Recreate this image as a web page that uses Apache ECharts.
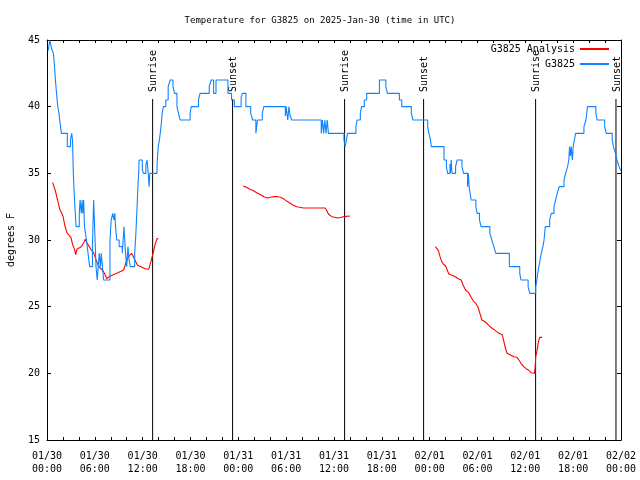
<!DOCTYPE html>
<html><head><meta charset="utf-8">
<script src="https://cdn.jsdelivr.net/npm/echarts@6/dist/echarts.min.js"></script>
<style>html,body{margin:0;padding:0;background:#fff}#c{width:640px;height:480px}</style>
</head><body><div id="c"></div>
<script>
// ---- data (hours since 2025-01-30 00:00 UTC, degrees F) ----
const titleText = 'Temperature for G3825 on 2025-Jan-30 (time in UTC)';
const xTickLabels = ['01/30\n00:00','01/30\n06:00','01/30\n12:00','01/30\n18:00','01/31\n00:00','01/31\n06:00','01/31\n12:00','01/31\n18:00','02/01\n00:00','02/01\n06:00','02/01\n12:00','02/01\n18:00','02/02\n00:00'];
const sunTimes = [13.25, 23.28, 37.33, 47.24, 61.29, 71.37];
const sunNames = ['Sunrise','Sunset','Sunrise','Sunset','Sunrise','Sunset'];

const observed = [[0.15,44.2],[0.35,45],[0.55,44.4],[0.8,44],[0.95,43],[1.05,42],[1.2,41],[1.35,40],[1.5,39.5],[1.6,39],[1.7,38.5],[1.8,38],[2.55,37],[2.95,37.5],[3.1,38],[3.2,37.5],[3.3,35],[3.45,33],[3.65,31],[4.05,32],[4.15,33],[4.3,32],[4.4,33],[4.5,32],[4.6,33],[4.7,31],[4.95,30],[5.15,29],[5.35,28],[5.7,29.5],[5.85,33],[6.0,30.5],[6.15,28],[6.3,27],[6.55,29],[6.7,28],[6.8,29],[6.95,28],[7.1,27],[7.9,30],[8.05,31.5],[8.25,32],[8.4,31.5],[8.5,32],[8.6,31],[8.75,30],[9.05,29.5],[9.45,29],[9.65,31],[9.85,29],[10.0,28],[10.15,29.5],[10.3,28.5],[10.45,28],[11.0,29],[11.15,30.5],[11.3,32.5],[11.4,34],[11.5,35],[11.55,36],[11.95,35.3],[12.1,35],[12.4,35.6],[12.55,36],[12.7,35],[12.8,34],[12.9,35],[13.8,35.6],[13.95,37],[14.1,37.5],[14.3,38.5],[14.45,39.5],[14.6,40],[14.9,40.5],[15.2,41.5],[15.45,42],[15.8,41.5],[16.0,41],[16.3,40],[16.5,39.5],[16.7,39],[17.95,39.5],[18.1,40],[19.0,40.5],[19.2,41],[20.35,41.5],[20.6,42],[20.9,41],[21.2,42],[22.7,41],[23.15,40.5],[23.5,40],[24.35,40.7],[24.5,41],[24.95,40],[25.55,39.5],[25.8,39],[26.2,38],[26.4,39],[27.0,39.5],[27.2,40],[29.9,39.3],[30.0,40],[30.2,39],[30.35,40],[30.5,39.3],[30.7,39],[34.4,38],[34.55,39],[34.7,38],[34.85,39],[35.0,38],[35.15,39],[35.3,38],[37.25,37.5],[37.4,37],[37.55,37.5],[37.7,38],[38.75,38.5],[38.9,39],[39.3,39.5],[39.45,40],[39.8,40.5],[40.1,41],[41.7,42],[42.5,41.5],[42.7,41],[44.2,40.5],[44.5,40],[45.7,39.5],[45.9,39],[47.75,38.5],[47.9,38],[48.1,37.5],[48.2,37],[49.8,36],[50.1,35.5],[50.25,35],[50.55,35.7],[50.6,35],[50.7,36],[50.8,35],[51.25,35.5],[51.45,36],[52.05,35.5],[52.25,35],[52.75,34],[52.85,35],[52.95,34],[53.2,33],[53.8,32.5],[53.95,32],[54.25,31.5],[54.45,31],[55.55,30.5],[55.8,30],[56.05,29.5],[56.3,29],[58.0,28],[59.3,27.5],[59.45,27],[60.35,26.5],[60.55,26],[61.3,26.5],[61.45,27],[61.55,27.5],[61.7,28],[61.85,28.5],[62.0,29],[62.2,29.5],[62.35,30],[62.5,31],[63.05,31.5],[63.25,32],[63.6,32.5],[63.8,33],[64.0,33.5],[64.25,34],[64.85,34.5],[65.05,35],[65.3,35.5],[65.45,36],[65.55,37],[65.65,36.3],[65.75,37],[65.9,36],[66.0,37],[66.15,37.5],[66.3,38],[67.35,38.5],[67.6,39],[67.8,40],[68.85,39.5],[69.0,39],[69.95,38.5],[70.15,38],[70.9,37.5],[71.05,37],[71.3,36.5],[71.5,36],[71.75,35.5],[71.95,35.2]];

const analysis1 = [[0.7,34.3],[0.9,34.2],[1.0,33.8],[1.33,33.0],[1.6,32.3],[1.75,32.2],[2.0,31.8],[2.25,31.05],[2.5,30.55],[2.7,30.4],[3.0,30.2],[3.2,29.7],[3.45,29.3],[3.6,28.9],[3.75,29.3],[3.9,29.4],[4.3,29.5],[4.6,29.8],[4.8,30.05],[5.0,29.8],[5.2,29.6],[5.5,29.3],[5.85,29.05],[6.1,28.6],[6.35,28.2],[6.65,27.9],[6.97,27.75],[7.2,27.5],[7.5,27.1],[7.8,27.25],[8.3,27.4],[8.9,27.55],[9.6,27.75],[9.8,28.1],[10.0,28.5],[10.3,28.8],[10.6,29.0],[10.8,28.8],[11.1,28.4],[11.35,28.1],[11.8,28.0],[12.3,27.85],[12.75,27.8],[13.0,28.3],[13.4,29.25],[13.6,29.75],[13.8,30.1],[13.96,30.1]];
const analysis2 = [[24.6,34.05],[25.0,33.95],[25.45,33.8],[25.9,33.7],[26.3,33.55],[26.8,33.4],[27.2,33.25],[27.7,33.15],[28.0,33.2],[28.4,33.25],[28.9,33.25],[29.3,33.2],[29.65,33.1],[30.1,32.9],[30.5,32.75],[30.9,32.6],[31.3,32.5],[31.7,32.45],[32.15,32.4],[34.9,32.4],[35.1,32.2],[35.3,31.95],[35.5,31.8],[35.7,31.75],[36.1,31.7],[36.5,31.65],[36.9,31.7],[37.2,31.75],[37.45,31.8],[38.0,31.8]];
const analysis3 = [[48.7,29.5],[48.9,29.5],[49.1,29.2],[49.3,28.75],[49.5,28.4],[49.7,28.2],[50.0,28.05],[50.2,27.75],[50.4,27.45],[50.8,27.35],[51.2,27.25],[51.6,27.1],[51.95,27.0],[52.2,26.6],[52.5,26.25],[52.9,26.05],[53.2,25.7],[53.5,25.4],[53.8,25.25],[54.1,24.9],[54.3,24.5],[54.55,24.0],[55.0,23.85],[55.4,23.6],[55.8,23.4],[56.25,23.2],[56.7,23.0],[57.1,22.9],[57.3,22.4],[57.5,21.9],[57.7,21.5],[58.1,21.4],[58.55,21.25],[58.95,21.2],[59.2,21.0],[59.45,20.75],[59.8,20.5],[60.1,20.35],[60.4,20.25],[60.7,20.05],[60.95,20.0],[61.15,20.0],[61.25,20.6],[61.3,21.25],[61.5,21.8],[61.65,22.4],[61.8,22.7],[62.1,22.7]];

// ---- chart ----
const FONT = 'DejaVu Sans Mono';
const RED = '#ff0000', BLUE = '#0f84ff';
const Y_MIN = 15, Y_MAX = 45, SUN_LINE_TOP = 40.575;
const chart = echarts.init(document.getElementById('c'), null, {renderer:'canvas'});
const axisCommonX = {type:'value', min:0, max:72, interval:2,
  axisLine:{show:true, onZero:false, lineStyle:{color:'#000', width:1}},
  axisTick:{show:true, inside:true, length:3, lineStyle:{color:'#000'}},
  splitLine:{show:false}};
const axisCommonY = {type:'value', min:Y_MIN, max:Y_MAX, interval:5,
  axisLine:{show:true, onZero:false, lineStyle:{color:'#000', width:1}},
  axisTick:{show:true, inside:true, length:4, lineStyle:{color:'#000'}},
  splitLine:{show:false}};
const redSeries = [analysis1, analysis2, analysis3].map(d => ({
  name:'G3825 Analysis', type:'line', data:d, symbol:'none', z:3,
  lineStyle:{color:RED, width:1.1}, itemStyle:{color:RED}
}));
chart.setOption({
  animation:false,
  backgroundColor:'#fff',
  title:{text:titleText, left:'center', top:11,
    textStyle:{fontFamily:FONT, fontSize:9, fontWeight:'normal', color:'#000'}},
  legend:{orient:'vertical', right:26, top:38, align:'right', itemWidth:29, itemHeight:2, itemGap:3,
    icon:'rect', selectedMode:false,
    data:[{name:'G3825 Analysis', itemStyle:{color:RED}}, {name:'G3825', itemStyle:{color:BLUE}}],
    textStyle:{fontFamily:FONT, fontSize:10, color:'#000', lineHeight:12}},
  grid:{left:47, right:19, top:40, bottom:40, containLabel:false, outerBoundsMode:'none'},
  xAxis:[
    Object.assign({}, axisCommonX, {position:'bottom',
      axisLabel:{show:true, margin:10, color:'#000', fontFamily:FONT, fontSize:10, lineHeight:13,
        showMinLabel:true, showMaxLabel:true,
        formatter:v => (v % 6 === 0 ? xTickLabels[v/6] : '')}}),
    Object.assign({}, axisCommonX, {position:'top', axisLabel:{show:false}})
  ],
  yAxis:[
    Object.assign({}, axisCommonY, {position:'left', name:'degrees F', nameLocation:'middle', nameRotate:90, nameGap:31,
      nameTextStyle:{fontFamily:FONT, fontSize:10, color:'#000'},
      axisLabel:{show:true, margin:7, color:'#000', fontFamily:FONT, fontSize:10}}),
    Object.assign({}, axisCommonY, {position:'right', axisLabel:{show:false}})
  ],
  series:[
    {type:'custom', name:'sun', xAxisIndex:0, yAxisIndex:0, clip:false, silent:true, z:2,
      data:sunTimes.map(t => [t, Y_MIN]), encode:{x:0, y:1},
      renderItem:function(params, api){
        const t = api.value(0);
        const b = api.coord([t, Y_MIN]);
        const tp = api.coord([t, SUN_LINE_TOP]);
        return {type:'group', children:[
          {type:'line', shape:{x1:b[0], y1:b[1], x2:tp[0], y2:tp[1]}, style:{stroke:'#000', lineWidth:1}},
          {type:'text', x:tp[0]+1, y:tp[1]-7, rotation:Math.PI/2,
            style:{text:sunNames[params.dataIndex], x:0, y:0, align:'left', verticalAlign:'middle',
              font:'10px "' + FONT + '"', fill:'#000'}}
        ]};
      }},
    {name:'G3825', type:'line', data:observed, step:'end', symbol:'none', z:4,
      lineStyle:{color:BLUE, width:1.1}, itemStyle:{color:BLUE}}
  ].concat(redSeries)
});
</script></body></html>
